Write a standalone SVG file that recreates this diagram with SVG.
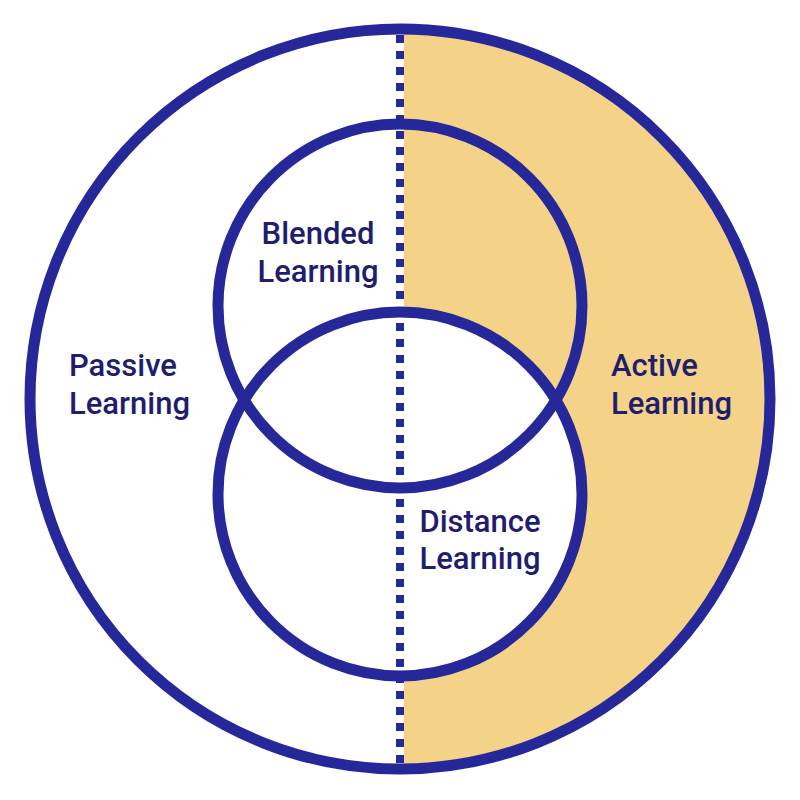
<svg xmlns="http://www.w3.org/2000/svg" width="800" height="800" viewBox="0 0 800 800">
<style>
.ring{fill:none;stroke:#26289a;stroke-width:11}
.lbl{font-family:Roboto,"Liberation Sans",sans-serif;font-weight:500;font-size:31px;fill:#1f1e6e}
</style>
<rect width="800" height="800" fill="#ffffff"/>
<g id="active-fill">
<path d="M404 29 A370 370 0 0 1 404 769 Z" fill="#f4d288"/>
<circle cx="400" cy="494" r="182" fill="#ffffff"/>
</g>
<g id="outer">
<circle class="ring" cx="400" cy="399" r="370"/>
</g>
<g id="blended">
<circle class="ring" cx="400" cy="306" r="182"/>
</g>
<g id="distance">
<circle class="ring" cx="400" cy="494" r="182"/>
</g>
<g id="connectors">
<line x1="400" y1="35" x2="400" y2="770" stroke="#26289a" stroke-width="8" stroke-dasharray="8 8"/>
</g>
<g id="labels">
<text class="lbl" x="318" y="244" text-anchor="middle">Blended</text>
<text class="lbl" x="318" y="282" text-anchor="middle">Learning</text>
<text class="lbl" x="69" y="376">Passive</text>
<text class="lbl" x="69" y="414">Learning</text>
<text class="lbl" x="611" y="376">Active</text>
<text class="lbl" x="611" y="414">Learning</text>
<text class="lbl" x="480" y="532" text-anchor="middle">Distance</text>
<text class="lbl" x="480" y="569" text-anchor="middle">Learning</text>
</g>
</svg>
